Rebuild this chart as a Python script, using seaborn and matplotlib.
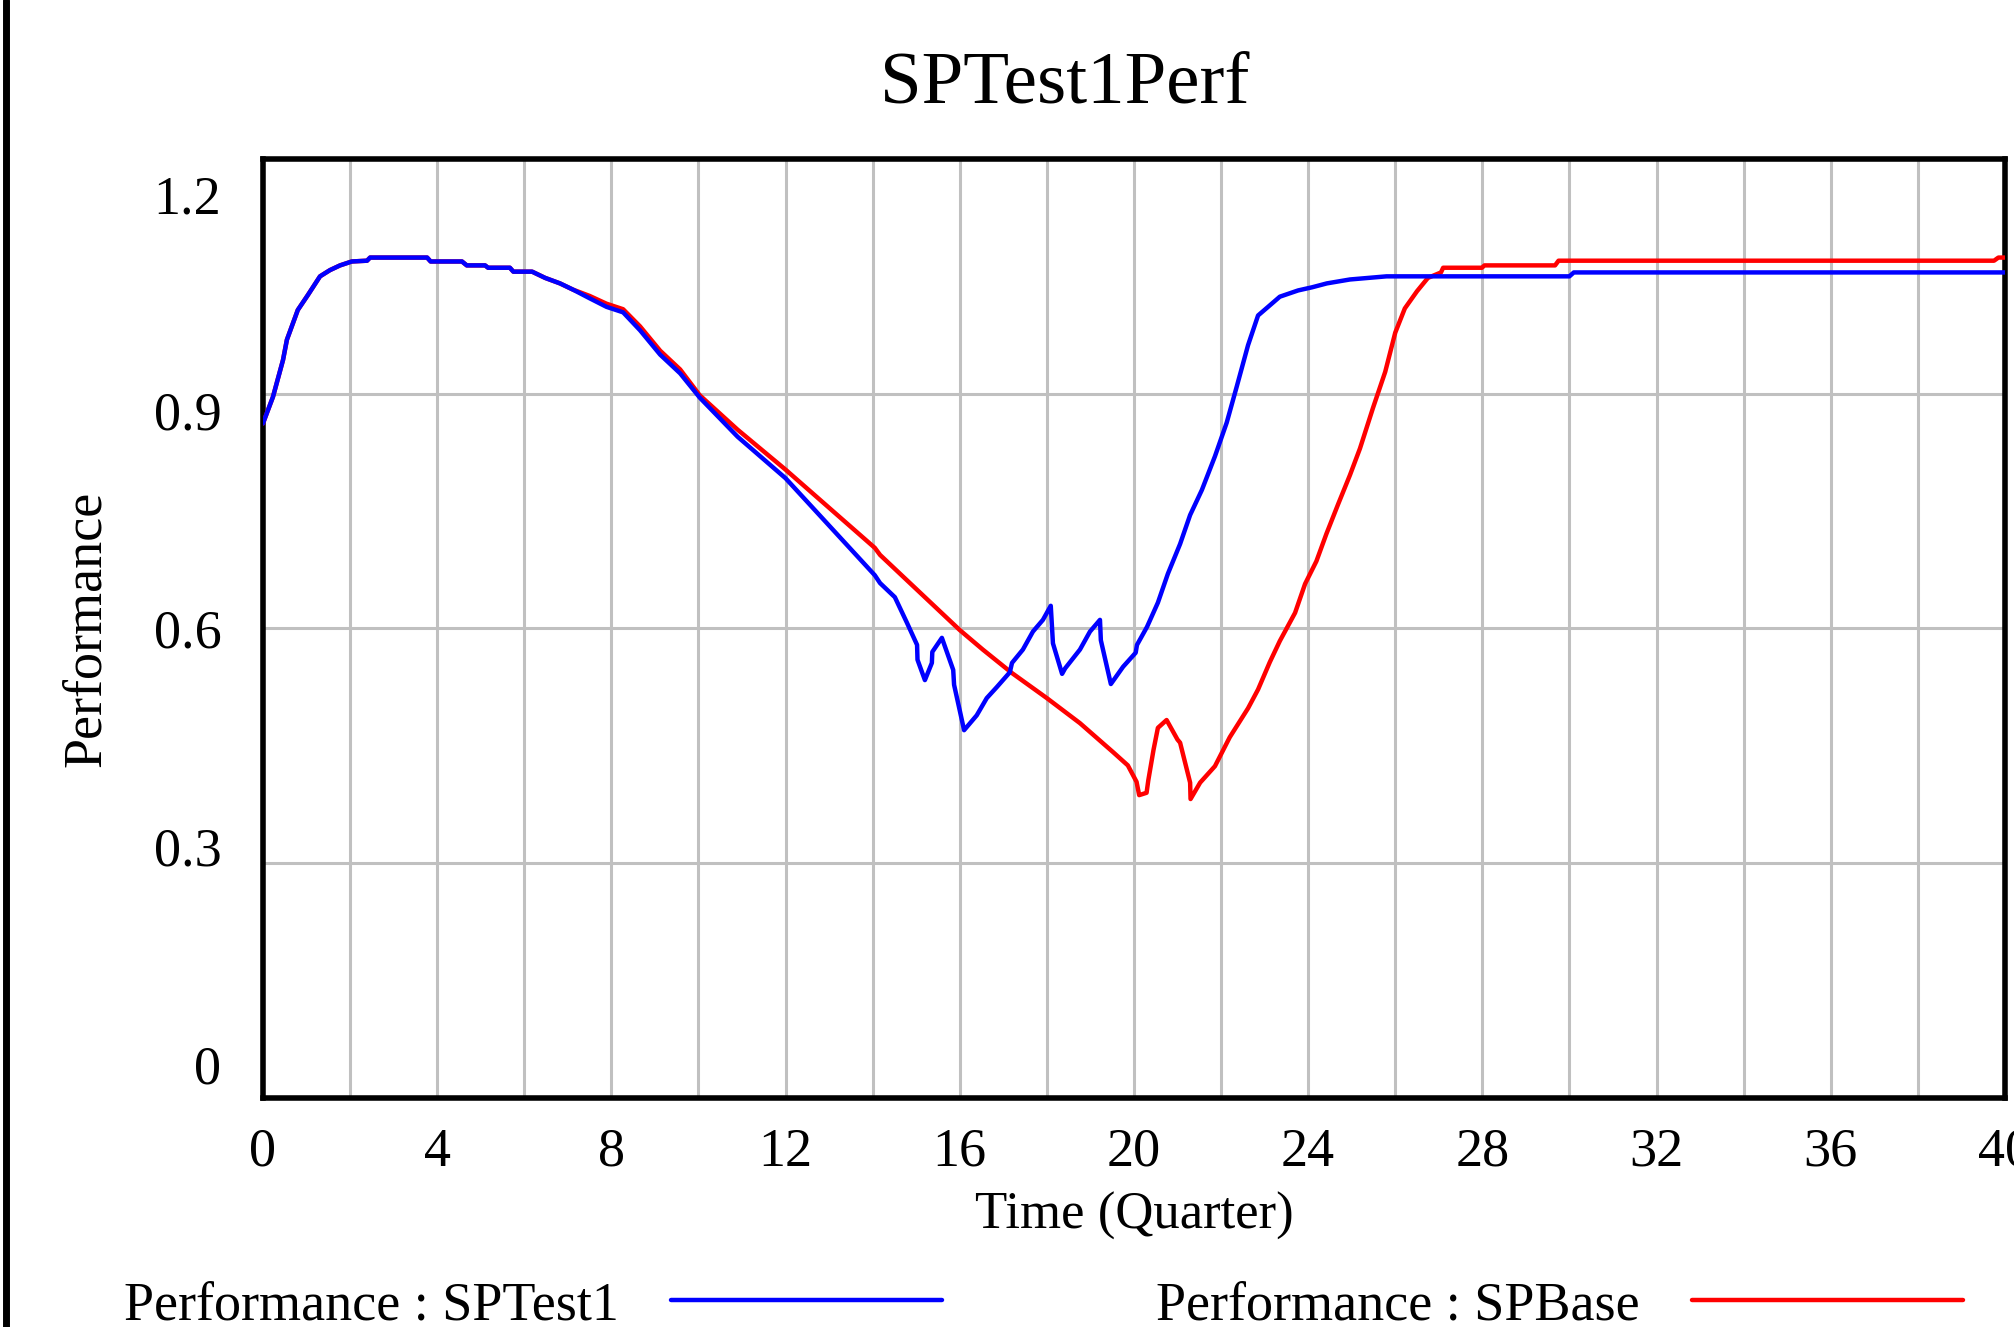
import matplotlib
matplotlib.use("Agg")
import matplotlib.pyplot as plt
import matplotlib.transforms as mtransforms
from matplotlib.lines import Line2D
import pandas as pd
import seaborn as sns

# series (time in quarters, performance)
test1_time = [0.0, 0.23, 0.46, 0.55, 0.8, 1.03, 1.31, 1.54, 1.77, 2.04, 2.39, 2.46,
              3.77, 3.85, 4.57, 4.68, 5.1, 5.17, 5.67, 5.75, 6.18, 6.48, 6.82, 7.12,
              7.5, 7.89, 8.27, 8.66, 9.12, 9.58, 10.03, 10.9, 12.0, 14.05, 14.17,
              14.51, 14.79, 15.02, 15.03, 15.2, 15.36, 15.37, 15.59, 15.85, 15.87,
              16.1, 16.39, 16.62, 16.85, 17.15, 17.2, 17.45, 17.68, 17.91, 18.09,
              18.14, 18.35, 18.42, 18.76, 18.99, 19.22, 19.24, 19.47, 19.75, 20.04,
              20.07, 20.3, 20.55, 20.78, 21.06, 21.29, 21.56, 21.86, 22.13, 22.36,
              22.62, 22.85, 23.08, 23.35, 23.77, 24.09, 24.43, 24.96, 25.8, 30.0,
              30.1, 40.0]
test1_perf = [0.862, 0.896, 0.943, 0.969, 1.007, 1.026, 1.050, 1.058, 1.064, 1.069, 1.070, 1.074,
              1.074, 1.069, 1.069, 1.064, 1.064, 1.061, 1.061, 1.056, 1.056, 1.048, 1.041, 1.033,
              1.022, 1.011, 1.004, 0.981, 0.950, 0.926, 0.895, 0.845, 0.792, 0.668, 0.658,
              0.640, 0.607, 0.579, 0.560, 0.534, 0.556, 0.570, 0.588, 0.547, 0.528,
              0.470, 0.489, 0.511, 0.525, 0.544, 0.556, 0.573, 0.596, 0.611, 0.629,
              0.581, 0.542, 0.549, 0.573, 0.596, 0.611, 0.585, 0.529, 0.551, 0.569,
              0.579, 0.602, 0.633, 0.670, 0.708, 0.745, 0.777, 0.820, 0.863, 0.909,
              0.962, 1.000, 1.011, 1.024, 1.032, 1.036, 1.041, 1.046, 1.050, 1.050,
              1.055, 1.055]

base_time = [0.0, 0.23, 0.46, 0.55, 0.8, 1.03, 1.31, 1.54, 1.77, 2.04, 2.39, 2.46,
             3.77, 3.85, 4.57, 4.68, 5.1, 5.17, 5.67, 5.75, 6.18, 6.48, 6.82, 7.12,
             7.5, 7.89, 8.27, 8.66, 9.12, 9.58, 10.03, 10.9, 12.0, 14.05, 14.17,
             16.0, 16.53, 17.2, 18.0, 18.76, 19.52, 19.86, 20.06, 20.12, 20.29,
             20.33, 20.45, 20.55, 20.75, 21.0, 21.06, 21.29, 21.3, 21.52, 21.86,
             22.2, 22.62, 22.85, 23.12, 23.35, 23.7, 23.93, 24.19, 24.42, 24.69,
             24.96, 25.19, 25.49, 25.77, 26.0, 26.22, 26.5, 26.75, 27.05, 27.1,
             27.99, 28.05, 29.67, 29.75, 39.75, 39.85, 40.0]
base_perf = [0.862, 0.896, 0.943, 0.969, 1.007, 1.026, 1.050, 1.058, 1.064, 1.069, 1.070, 1.074,
             1.074, 1.069, 1.069, 1.064, 1.064, 1.061, 1.061, 1.056, 1.056, 1.048, 1.041, 1.033,
             1.025, 1.015, 1.008, 0.986, 0.955, 0.931, 0.898, 0.854, 0.803, 0.703, 0.694,
             0.598, 0.573, 0.543, 0.511, 0.479, 0.442, 0.425, 0.404, 0.387, 0.390,
             0.406, 0.445, 0.473, 0.483, 0.458, 0.454, 0.403, 0.382, 0.403, 0.424,
             0.461, 0.498, 0.522, 0.557, 0.584, 0.620, 0.657, 0.686, 0.721, 0.759,
             0.796, 0.830, 0.882, 0.928, 0.978, 1.009, 1.031, 1.048, 1.055, 1.061,
             1.061, 1.064, 1.064, 1.070, 1.070, 1.074, 1.074]

x_ticks = list(range(0, 41, 4))
y_ticks = [0, 0.3, 0.6, 0.9, 1.2]
y_labels = ["0", "0.3", "0.6", "0.9", "1.2"]

sns.set_theme(style="white")
plt.rcParams["font.family"] = ["Liberation Serif", "DejaVu Serif"]
plt.rcParams.update({"text.color": "black", "axes.labelcolor": "black",
                     "xtick.color": "black", "ytick.color": "black"})

fig = plt.figure(figsize=(20.15, 13.27), dpi=100)
ax = fig.add_axes([0.1305, 0.1726, 0.8645, 0.7076])

test1 = pd.DataFrame({"t": test1_time, "v": test1_perf})
base = pd.DataFrame({"t": base_time, "v": base_perf})
sns.lineplot(data=base, x="t", y="v", color="#ff0000", lw=3.2, sort=False,
             estimator=None, ax=ax, label="Performance : SPBase", zorder=3)
sns.lineplot(data=test1, x="t", y="v", color="#0000ff", lw=3.2, sort=False,
             estimator=None, ax=ax, label="Performance : SPTest1", zorder=4)

ax.set_xlim(0, 40)
ax.set_ylim(0, 1.2)
ax.set_xticks(x_ticks)
ax.set_xticks(range(0, 41, 2), minor=True)
ax.set_yticks(y_ticks)
ax.set_yticklabels(y_labels)
ax.grid(which="both", color="#c0c0c0", lw=2.2)
ax.tick_params(which="both", length=0, labelsize=39)
ax.tick_params(axis="x", pad=21)
ax.tick_params(axis="y", pad=30)
for s in ax.spines.values():
    s.set_color("black")
    s.set_linewidth(4)

# vensim-style: y labels squeezed slightly toward the middle
for lab, dy in zip(ax.get_yticklabels(), [34, 17, 0, -17, -35]):
    lab.set_transform(lab.get_transform() +
                      mtransforms.ScaledTranslation(0, dy / 100, fig.dpi_scale_trans))

ax.set_xlabel("Time (Quarter)", fontsize=38, labelpad=10)
ax.set_ylabel("Performance", fontsize=39, labelpad=30)

fig.text(0.5286, 0.936, "SPTest1Perf", ha="center", va="center", fontsize=54)

# legend: label first, then the line sample
h, l = ax.get_legend_handles_labels()
ax.get_legend().remove()
fig.legend([h[1], h[0]], [l[1], l[0]], ncol=2, markerfirst=False, frameon=False,
           loc="center left", bbox_to_anchor=(0.048, 0.016), fontsize=39,
           handlelength=5.0, handletextpad=0.97, columnspacing=3.95, borderpad=0)

# window border on the left edge
fig.add_artist(Line2D([0.0032, 0.0032], [0, 1], transform=fig.transFigure,
                      color="black", lw=5))

fig.savefig("out.png", dpi=100)
